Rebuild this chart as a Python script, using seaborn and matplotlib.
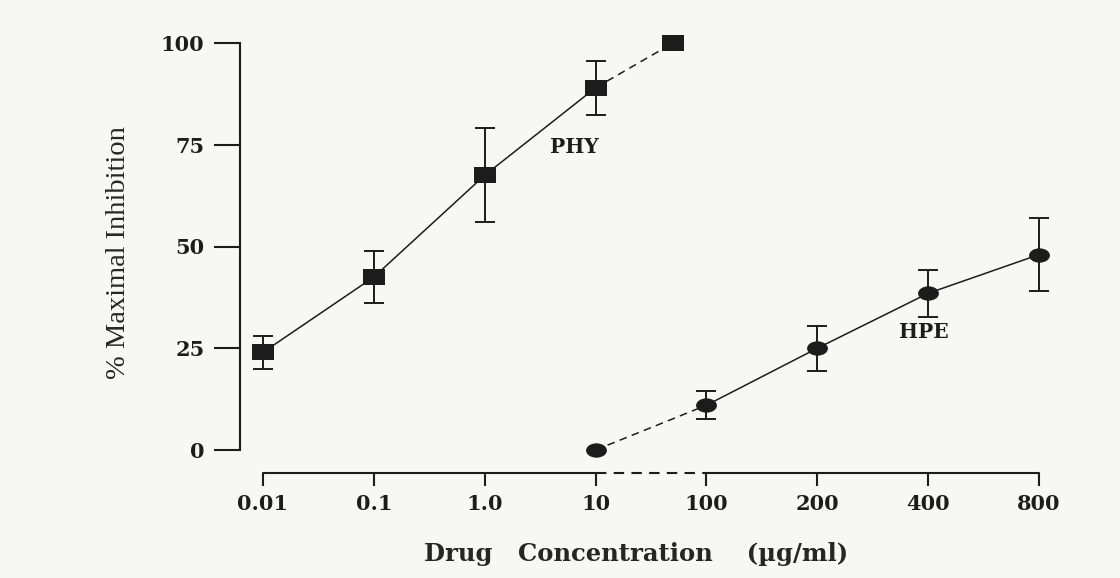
import numpy as np
import matplotlib
matplotlib.use("Agg")
import matplotlib.pyplot as plt
import matplotlib.transforms as mtransforms
from matplotlib.path import Path
import seaborn as sns

# concentrations in ug/ml
phy_conc = [0.01, 0.1, 1.0, 10, 50]
phy_mean = [24, 42.5, 67.5, 89, 100]
phy_err = [4, 6.5, 11.5, 6.7, 0]

hpe_conc = [10, 100, 200, 400, 800]
hpe_mean = [0, 11, 25, 38.5, 48]
hpe_err = [0, 3.4, 5.5, 5.8, 9]

tick_conc = [0.01, 0.1, 1.0, 10, 100, 200, 400, 800]
tick_labels = ["0.01", "0.1", "1.0", "10", "100", "200", "400", "800"]
y_ticks = [0, 25, 50, 75, 100]

ink = "#1c1c1c"
bg = "#f7f7f5"


# broken axis: decades up to 100, then doublings
def fwd(c):
    c = np.clip(np.asarray(c, dtype=float), 1e-6, None)
    return np.where(c <= 100, np.log10(c) + 2, 4 + np.log2(c / 100))


def inv(p):
    p = np.clip(np.asarray(p, dtype=float), -20, 20)
    return np.where(p <= 4, 10.0 ** (p - 2), 100 * 2.0 ** (p - 4))


sns.set_style("ticks")
plt.rcParams["font.family"] = ["DejaVu Serif", "DejaVu Sans"]
plt.rcParams["font.weight"] = "bold"
plt.rcParams["text.color"] = ink
plt.rcParams["axes.edgecolor"] = ink
plt.rcParams["xtick.color"] = ink
plt.rcParams["ytick.color"] = ink

fig = plt.figure(figsize=(11.2, 5.78), dpi=100, facecolor=bg)
ax = fig.add_axes([263 / 1120, 128 / 578, 776 / 1120, 407 / 578])
ax.set_facecolor(bg)
ax.set_xscale("function", functions=(fwd, inv))

square = Path([(-1.4, -1), (1.4, -1), (1.4, 1), (-1.4, 1), (-1.4, -1)],
              [Path.MOVETO, Path.LINETO, Path.LINETO, Path.LINETO, Path.CLOSEPOLY])
oval = Path.unit_circle().transformed(mtransforms.Affine2D().scale(1.45, 1.0))

# connecting lines: solid for measured range, dashed for the extrapolated link
sns.lineplot(x=phy_conc[:4], y=phy_mean[:4], ax=ax, color=ink, linewidth=1.1,
             sort=False, clip_on=False)
sns.lineplot(x=phy_conc[3:], y=phy_mean[3:], ax=ax, color=ink, linewidth=1.1,
             sort=False, linestyle=(0, (5, 3.5)), clip_on=False)
sns.lineplot(x=hpe_conc[:2], y=hpe_mean[:2], ax=ax, color=ink, linewidth=1.1,
             sort=False, linestyle=(0, (5, 3.5)), clip_on=False)
sns.lineplot(x=hpe_conc[1:], y=hpe_mean[1:], ax=ax, color=ink, linewidth=1.1,
             sort=False, clip_on=False)

for conc, mean, err in [(phy_conc, phy_mean, phy_err), (hpe_conc, hpe_mean, hpe_err)]:
    keep = [i for i, e in enumerate(err) if e > 0]
    ax.errorbar([conc[i] for i in keep], [mean[i] for i in keep],
                yerr=[err[i] for i in keep], fmt="none", ecolor=ink,
                elinewidth=1.4, capsize=7, capthick=1.4, zorder=3, clip_on=False)

sns.scatterplot(x=phy_conc, y=phy_mean, ax=ax, marker=square, s=15.5 ** 2,
                color=ink, linewidth=0, zorder=4, clip_on=False)
sns.scatterplot(x=hpe_conc, y=hpe_mean, ax=ax, marker=oval, s=15 ** 2,
                color=ink, linewidth=0, zorder=4, clip_on=False)

ax.text(6.5, 74.5, "PHY", ha="center", va="center", fontsize=14.5)
ax.text(390, 29, "HPE", ha="center", va="center", fontsize=14.5)

ax.set_xlim(0.01, 800)
ax.set_ylim(0, 100)
ax.set_xticks(tick_conc)
ax.set_xticklabels(tick_labels)
ax.xaxis.set_minor_locator(matplotlib.ticker.NullLocator())
ax.set_yticks(y_ticks)
ax.set_yticklabels([str(v) for v in y_ticks])
ax.tick_params(axis="y", length=18.5, width=1.5, pad=7, labelsize=15)
ax.tick_params(axis="x", length=9.4, width=1.5, pad=6, labelsize=15)

sns.despine(ax=ax, offset=16.6)
ax.spines["left"].set_linewidth(1.5)
ax.spines["bottom"].set_visible(False)

# bottom axis drawn by hand so the 10-100 break can be dashed
base = mtransforms.offset_copy(ax.get_xaxis_transform(), fig=fig, y=-16.6, units="points")
ax.plot([0.01, 10], [0, 0], color=ink, lw=1.5, transform=base, clip_on=False)
ax.plot([10, 100], [0, 0], color=ink, lw=1.5, ls=(0, (5, 3.5)), transform=base, clip_on=False)
ax.plot([100, 800], [0, 0], color=ink, lw=1.5, transform=base, clip_on=False)

ax.set_xlabel("Drug   Concentration    (\u00b5g/ml)", fontsize=17.5, fontweight="bold")
ax.xaxis.set_label_coords(0.481, -0.226)
ax.set_ylabel("% Maximal Inhibition", fontsize=20.5, fontweight="normal",
              family=["Liberation Serif", "DejaVu Serif"])
ax.yaxis.set_label_coords(-0.17, 0.484)

fig.savefig("out.png", dpi=100, facecolor=bg)
